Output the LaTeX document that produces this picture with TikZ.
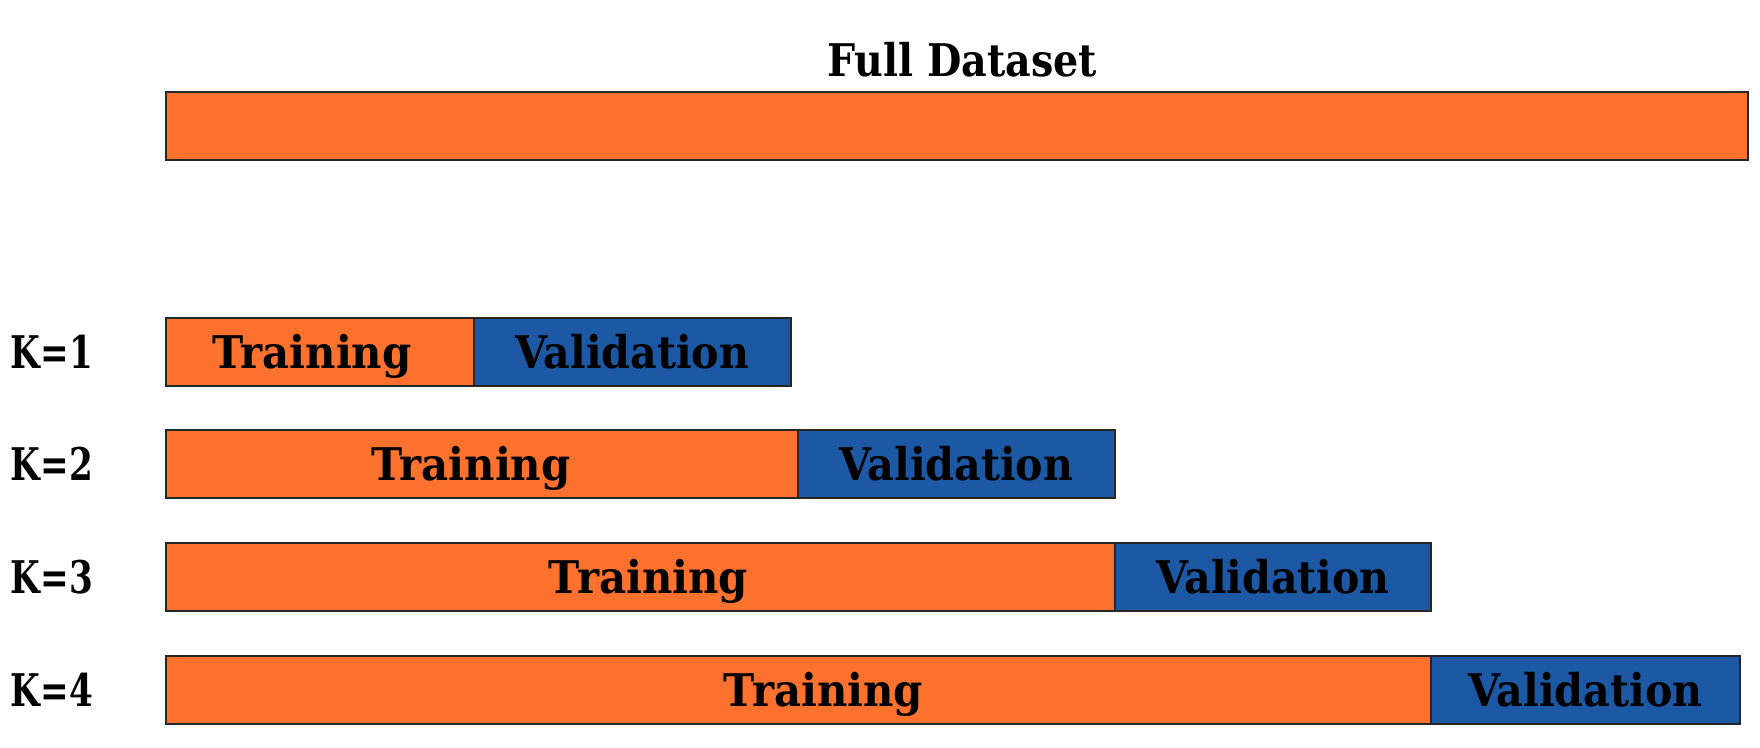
\documentclass[tikz,border=0pt]{standalone}
\usepackage{fontspec}
\setmainfont{DejaVu Serif}
\begin{document}
\definecolor{trainorange}{HTML}{FC712D}
\definecolor{valblue}{HTML}{1C58A4}
\newcommand{\narrow}[2]{\scalebox{#1}[1]{#2}}
\begin{tikzpicture}[x=1pt,y=-1pt,
  seg/.style={draw=black!85,line width=1.6pt},
  trainseg/.style={seg,fill=trainorange},
  valseg/.style={seg,fill=valblue},
  lbl/.style={font=\fontsize{45}{45}\selectfont\bfseries,text=black,inner sep=0pt,anchor=base}]
\useasboundingbox[fill=white] (0,0) rectangle (1760,747);

% full dataset bar
\node[lbl] (title) at (962,76) {\narrow{0.88}{Full Dataset}};
\draw[trainseg] (166,92) rectangle (1748,160);
\node (full) at (957,126) {};

% folds: training part grows, validation block shifts right
\foreach \k/\top/\split/\right/\shift in {1/318/474/791/-8, 2/430/798/1115/-11, 3/543/1115/1431/8, 4/656/1431/1740/25}{
  \pgfmathsetmacro{\bot}{\top+68}
  \pgfmathsetmacro{\base}{\top+50}
  \draw[trainseg] (166,\top) rectangle (\split,\bot);
  \draw[valseg] (\split,\top) rectangle (\right,\bot);
  \node[lbl] (train\k) at ({(166+\split)/2+\shift},\base) {\narrow{0.93}{Training}};
  \node[lbl] (val\k) at ({(\split+\right)/2},\base) {\narrow{0.915}{Validation}};
  \node[lbl] (k\k) at (52,\base) {\narrow{0.76}{K=\k}};
}
\end{tikzpicture}
\end{document}
